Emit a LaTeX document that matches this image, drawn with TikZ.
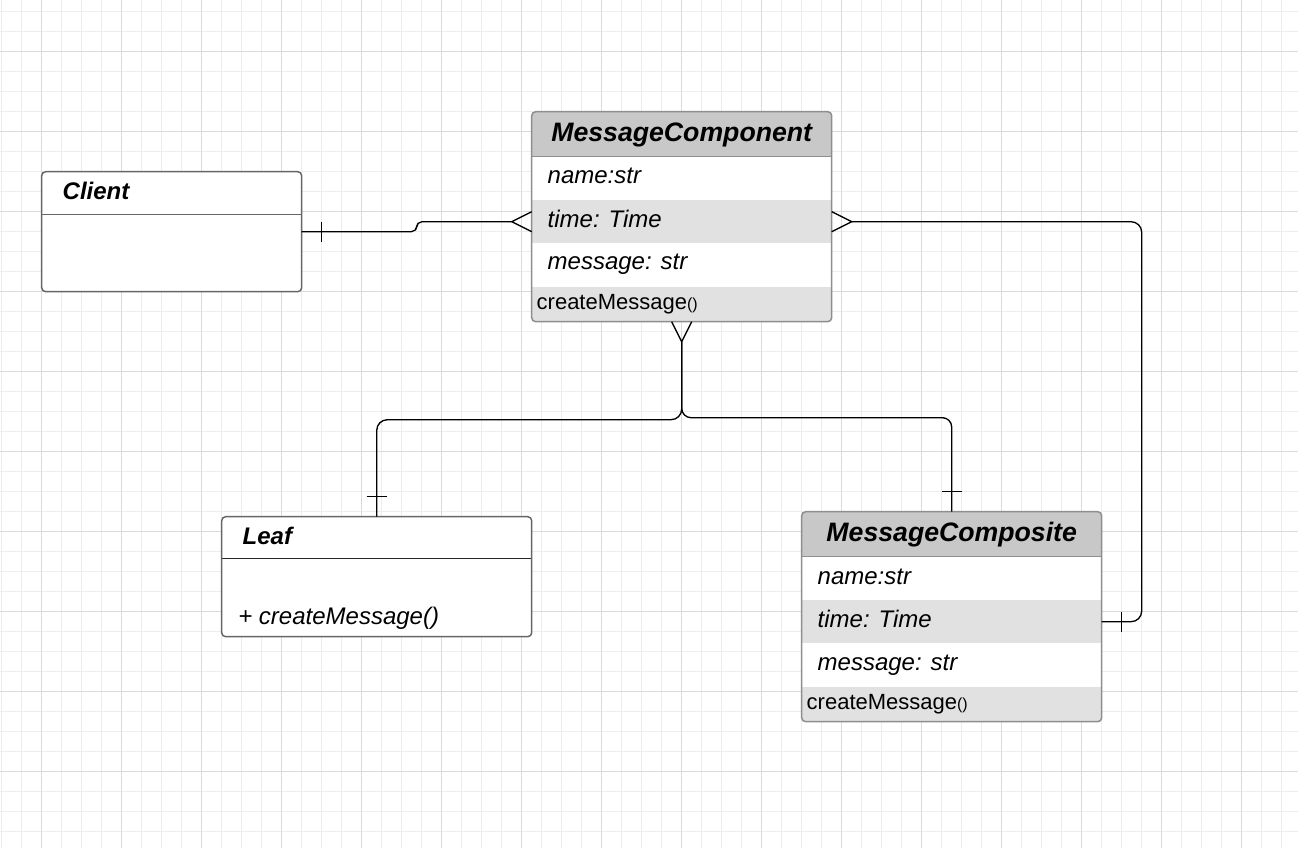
\documentclass[tikz,border=0pt]{standalone}
\usepackage{fontspec}
\setmainfont{Liberation Sans}
\usetikzlibrary{calc}
\definecolor{headgray}{HTML}{C8C8C8}
\definecolor{rowgray}{HTML}{E1E1E1}
\definecolor{gridminor}{HTML}{EDEDED}
\definecolor{gridmajor}{HTML}{DBDBDB}
\definecolor{frameA}{HTML}{8E8E8E}
\definecolor{frameB}{HTML}{666666}
\newcommand\PX{0.75pt}
\newcommand\ftitle{\fontsize{20pt}{24pt}\selectfont\bfseries\itshape}
\newcommand\fsmalltitle{\fontsize{18pt}{22pt}\selectfont\bfseries\itshape}
\newcommand\frow{\fontsize{18pt}{22pt}\selectfont\itshape}
\newcommand\fmeth{\fontsize{16.5pt}{20pt}\selectfont}
\newcommand\fparen{\fontsize{12pt}{14pt}\selectfont}
\tikzset{
  umlframe/.style={rectangle, inner sep=0pt, outer sep=0pt},
  lbl/.style={inner sep=0pt, outer sep=0pt, text=black},
  conn/.style={draw=black, line width=1pt},
}
\newcommand\UmlFull[4]{%
  \node[umlframe, anchor=north west, minimum width=300*\PX, minimum height=210*\PX] (#1) at (#2,#3) {};
  \begin{scope}
    \clip[rounded corners=3pt] (#1.north west) rectangle (#1.south east);
    \fill[white] (#1.north west) rectangle (#1.south east);
    \fill[headgray] (#1.north west) rectangle ($(#1.north east)+(0,45)$);
    \fill[rowgray] ($(#1.north west)+(0,88.3)$) rectangle ($(#1.north east)+(0,131.6)$);
    \fill[rowgray] ($(#1.north west)+(0,175)$) rectangle (#1.south east);
  \end{scope}
  \draw[frameA, line width=0.9pt] ($(#1.north west)+(0,45)$) -- ($(#1.north east)+(0,45)$);
  \draw[frameA, line width=1.1pt, rounded corners=3pt] (#1.north west) rectangle (#1.south east);
  \node[lbl, anchor=base, font=\ftitle] (#1-title) at ($(#1.north)+(0,30)$) {#4};
  \node[lbl, anchor=base west, font=\frow] (#1-name) at ($(#1.north west)+(16,72.3)$) {name:str};
  \node[lbl, anchor=base west, font=\frow] (#1-time) at ($(#1.north west)+(16,116)$) {time: Time};
  \node[lbl, anchor=base west, font=\frow] (#1-msg) at ($(#1.north west)+(16,158.3)$) {message: str};
  \node[lbl, anchor=base west, font=\fmeth] (#1-meth) at ($(#1.north west)+(5,197.6)$) {createMessage{\fparen()}};
  \coordinate (#1-L) at ($(#1.north west)+(0,110)$);
  \coordinate (#1-R) at ($(#1.north east)+(0,110)$);
}
\begin{document}
\begin{tikzpicture}[x=0.75pt, y=-0.75pt]
\useasboundingbox (0,0) rectangle (1298,848);
\fill[white] (0,0) rectangle (1298,848);
% grid
\foreach \gx in {1.7,21.7,...,1298} {\draw[gridminor, line width=0.75pt] (\gx,0) -- (\gx,848);}
\foreach \gy in {11.7,31.7,...,848} {\draw[gridminor, line width=0.75pt] (0,\gy) -- (1298,\gy);}
\foreach \gx in {41.7,121.7,...,1298} {\draw[gridmajor, line width=0.75pt] (\gx,0) -- (\gx,848);}
\foreach \gy in {51.7,131.7,...,848} {\draw[gridmajor, line width=0.75pt] (0,\gy) -- (1298,\gy);}

% Client
\node[umlframe, anchor=north west, minimum width=260*\PX, minimum height=120*\PX] (client) at (41.7,171.7) {};
\fill[white, rounded corners=3pt] (client.north west) rectangle (client.south east);
\draw[frameB, line width=1pt] ($(client.north west)+(0,42.6)$) -- ($(client.north east)+(0,42.6)$);
\draw[frameB, line width=1.1pt, rounded corners=3pt] (client.north west) rectangle (client.south east);
\node[lbl, anchor=base west, font=\fsmalltitle] (client-title) at ($(client.north west)+(21,28.3)$) {Client};

% Leaf
\node[umlframe, anchor=north west, minimum width=310*\PX, minimum height=120*\PX] (leaf) at (221.7,516.7) {};
\fill[white, rounded corners=3pt] (leaf.north west) rectangle (leaf.south east);
\draw[black!85, line width=1pt] ($(leaf.north west)+(0,42)$) -- ($(leaf.north east)+(0,42)$);
\draw[frameB, line width=1.1pt, rounded corners=3pt] (leaf.north west) rectangle (leaf.south east);
\node[lbl, anchor=base west, font=\fsmalltitle] (leaf-title) at ($(leaf.north west)+(21,27.6)$) {Leaf};
\node[lbl, anchor=base west, font=\frow] (leaf-meth) at ($(leaf.north west)+(16.6,107.3)$) {+ createMessage()};

% Full classes
\UmlFull{mc}{531.7}{111.7}{MessageComponent}
\UmlFull{cp}{801.7}{511.7}{MessageComposite}

% Client -> MessageComponent
\draw[conn, rounded corners=4pt] (client.east) -- ++(115,0) |- ($(mc-L)+(-20,0)$);
\draw[conn] ($(client.east)+(20,-10)$) -- ++(0,20);
\draw[conn] ($(mc-L)+(0,-10)$) -- ($(mc-L)+(-20,0)$) -- ($(mc-L)+(0,10)$);

% MessageComponent -> Leaf / Composite
\draw[conn] ($(mc.south)+(-10,0)$) -- ($(mc.south)+(0,20)$) -- ($(mc.south)+(10,0)$);
\draw[conn, rounded corners=8pt] ($(mc.south)+(0,20)$) -- ++(0,78) -| (leaf.north);
\draw[conn, rounded corners=7pt] ($(mc.south)+(0,20)$) -- ++(0,76) -| (cp.north);
\draw[conn] ($(leaf.north)+(-10,-20)$) -- ++(20,0);
\draw[conn] ($(cp.north)+(-10,-20)$) -- ++(20,0);

% MessageComponent -> Composite (right)
\draw[conn] ($(mc-R)+(0,-10)$) -- ($(mc-R)+(20,0)$) -- ($(mc-R)+(0,10)$);
\draw[conn, rounded corners=8pt] ($(mc-R)+(20,0)$) -- ($(mc-R)+(310,0)$) |- (cp-R);
\draw[conn] ($(cp-R)+(20,-10)$) -- ++(0,20);
\end{tikzpicture}
\end{document}
